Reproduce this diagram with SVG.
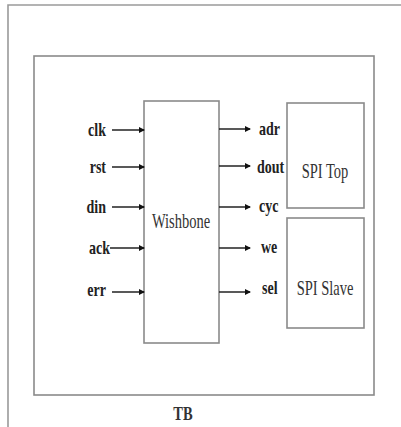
<svg xmlns="http://www.w3.org/2000/svg" width="401" height="427" viewBox="0 0 401 427">
<style>
.box{fill:#fff;stroke:#8a8a8a;stroke-width:1.6}
.frame{fill:none;stroke:#9a9a9a;stroke-width:1.6}
.lbl{font-family:'Liberation Serif','DejaVu Serif',serif;font-size:14px;font-weight:bold;fill:#222}
.name{font-family:'Liberation Serif','DejaVu Serif',serif;font-size:14.5px;fill:#333;text-anchor:middle}
.arr{stroke:#222;stroke-width:1.5;fill:none;marker-end:url(#ah)}
</style>
<defs>
<marker id="ah" markerWidth="6" markerHeight="6" refX="5" refY="3" orient="auto" markerUnits="userSpaceOnUse">
<path d="M0,0 L6,3 L0,6 Z" fill="#111"/>
</marker>
</defs>
<rect width="401" height="427" fill="#fff"/>
<g id="frame"><path class="frame" d="M8,427 V5 H401"/></g>
<g id="tb"><rect class="box" x="34" y="56" width="340" height="339"/>
<text class="name" transform="translate(183,420) scale(1,1.3)" font-weight="bold">TB</text></g>
<g id="wishbone"><rect class="box" x="144" y="101" width="75" height="242"/>
<text class="name" transform="translate(181,228) scale(1,1.4)">Wishbone</text></g>
<g id="spitop"><rect class="box" x="287" y="103" width="77" height="105"/>
<text class="name" transform="translate(325,178) scale(1,1.4)">SPI Top</text></g>
<g id="spislave"><rect class="box" x="287" y="218" width="77" height="110"/>
<text class="name" transform="translate(325,295) scale(1,1.4)">SPI Slave</text></g>
<g id="connectors">
<line class="arr" x1="112" y1="130" x2="144" y2="130"/>
<line class="arr" x1="112" y1="167" x2="144" y2="167"/>
<line class="arr" x1="112" y1="207" x2="144" y2="207"/>
<line class="arr" x1="110" y1="248" x2="144" y2="248"/>
<line class="arr" x1="112" y1="292" x2="144" y2="292"/>
<line class="arr" x1="219" y1="129" x2="250" y2="129"/>
<line class="arr" x1="219" y1="166" x2="250" y2="166"/>
<line class="arr" x1="219" y1="207" x2="250" y2="207"/>
<line class="arr" x1="219" y1="248" x2="250" y2="248"/>
<line class="arr" x1="219" y1="292" x2="250" y2="292"/>
</g>
<g id="labels">
<text class="lbl" transform="translate(106,136) scale(1,1.4)" text-anchor="end">clk</text>
<text class="lbl" transform="translate(106,173) scale(1,1.4)" text-anchor="end">rst</text>
<text class="lbl" transform="translate(106,213) scale(1,1.4)" text-anchor="end">din</text>
<text class="lbl" transform="translate(110,254) scale(1,1.4)" text-anchor="end">ack</text>
<text class="lbl" transform="translate(106,296) scale(1,1.4)" text-anchor="end">err</text>
<text class="lbl" transform="translate(259,135) scale(1,1.4)">adr</text>
<text class="lbl" transform="translate(257,173) scale(1,1.4)">dout</text>
<text class="lbl" transform="translate(259,212) scale(1,1.4)">cyc</text>
<text class="lbl" transform="translate(261,253) scale(1,1.4)">we</text>
<text class="lbl" transform="translate(262,294) scale(1,1.4)">sel</text>
</g>
</svg>
